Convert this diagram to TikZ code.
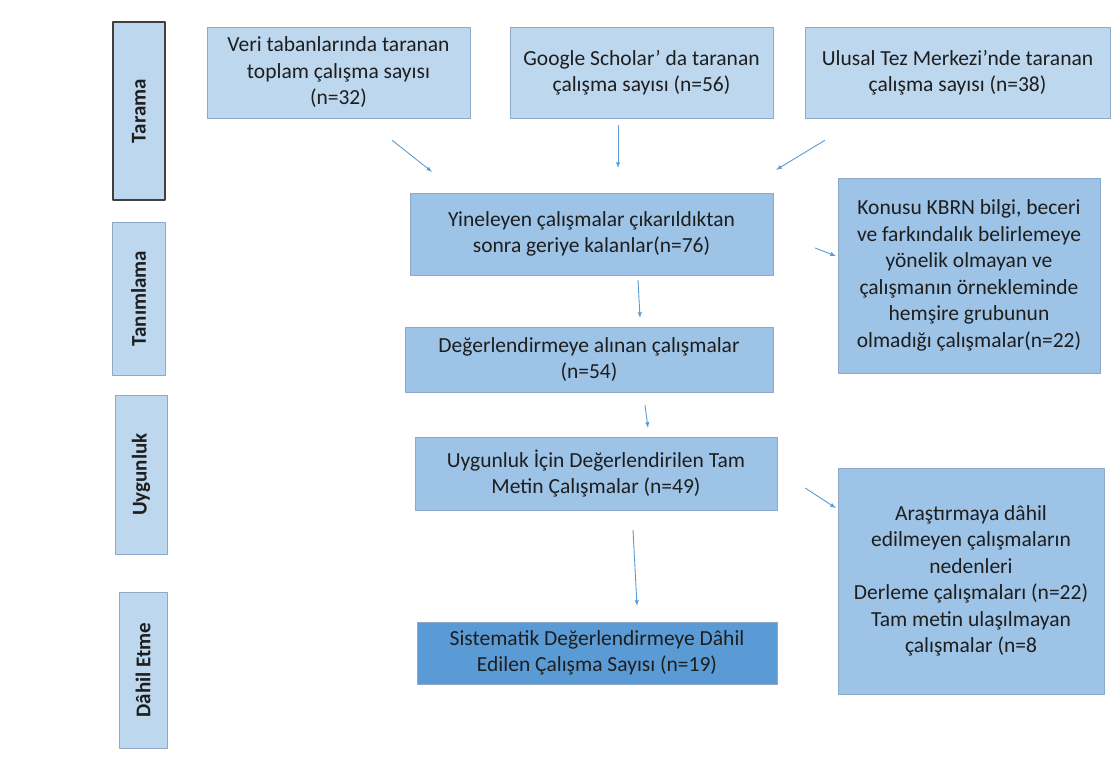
\documentclass[tikz,border=0pt]{standalone}
\usepackage{fontspec}
\setmainfont{Carlito}
\usetikzlibrary{arrows,calc}
\definecolor{lightbox}{HTML}{BDD7EE}
\definecolor{midbox}{HTML}{9DC3E6}
\definecolor{darkbox}{HTML}{5B9BD5}
\definecolor{boxline}{HTML}{8EA9C8}
\definecolor{arrowblue}{HTML}{5B9BD5}
\definecolor{txt}{HTML}{1E1E1E}
\begin{document}
\begin{tikzpicture}[x=1pt,y=-1pt,join=round]
		\tikzstyle{box}=[draw=boxline, fill=midbox, text=txt, align=center, inner sep=0pt, font=\fontsize{21.5}{26.5}\selectfont]
		\tikzstyle{side}=[draw=boxline, fill=lightbox, text=txt, rotate=90, inner sep=0pt, font=\fontsize{21}{24}\selectfont\bfseries]
		\tikzstyle{arr}=[draw=arrowblue, line width=0.9pt, ->, >=latex]
		
		\fill[white] (0,0) rectangle (1119,756);
		
		\node[side, draw=black!75, line width=1.2pt, minimum width=178pt, minimum height=52pt] (tar) at (139,111) {Tarama};
		\node[side, minimum width=153pt, minimum height=53pt] (tan) at (138.5,298.5) {Tanımlama};
		\node[side, minimum width=159pt, minimum height=52pt] (uyg) at (141,474.5) {Uygunluk};
		\node[side, minimum width=156pt, minimum height=48pt] (dah) at (143,670) {Dâhil Etme};
		
		\node[box, fill=lightbox, minimum width=263pt, minimum height=91pt] (b1) at (338.5,72.5) {Veri tabanlarında taranan\\toplam çalışma sayısı\\(n=32)};
		\node[box, fill=lightbox, minimum width=263pt, minimum height=91pt] (b2) at (641.5,72.5) {Google Scholar’ da taranan\\çalışma sayısı (n=56)};
		\node[box, fill=lightbox, minimum width=305pt, minimum height=91pt] (b3) at (957.5,72.5) {Ulusal Tez Merkezi’nde taranan\\çalışma sayısı (n=38)};
		
		\node[box, minimum width=363pt, minimum height=82pt] (yin) at (591.5,234) {Yineleyen çalışmalar çıkarıldıktan\\sonra geriye kalanlar(n=76)};
		\node[box, minimum width=262pt, minimum height=195pt] (kon) at (969,275.5) {Konusu KBRN bilgi, beceri\\ve farkındalık belirlemeye\\yönelik olmayan ve\\çalışmanın örnekleminde\\hemşire grubunun\\olmadığı çalışmalar(n=22)};
		\node[box, minimum width=368pt, minimum height=65pt] (deg) at (589,359.5) {Değerlendirmeye alınan çalışmalar\\(n=54)};
		\node[box, minimum width=362pt, minimum height=73pt] (uic) at (596,473.5) {Uygunluk İçin Değerlendirilen Tam\\Metin Çalışmalar (n=49)};
		\node[box, minimum width=266pt, minimum height=226pt] (ara) at (971,581) {Araştırmaya dâhil\\edilmeyen çalışmaların\\nedenleri\\Derleme çalışmaları (n=22)\\Tam metin ulaşılmayan\\çalışmalar (n=8};
		\node[box, fill=darkbox, minimum width=360pt, minimum height=62pt] (sis) at (597,653) {Sistematik Değerlendirmeye Dâhil\\Edilen Çalışma Sayısı (n=19)};
		
		\draw[arr] ($(b1.south)+(53.5,22)$) -- ($(yin.north)+(-159.5,-21)$);
		\draw[arr] ($(b2.south)+(-23.5,7)$) -- ($(yin.north)+(26.5,-25)$);
		\draw[arr] ($(b3.south)+(-132.5,22)$) -- ($(yin.north east)+(3,-23)$);
		\draw[arr] ($(yin.south)+(46.5,5)$) -- ($(deg.north)+(51,-9)$);
		\draw[arr] ($(deg.south)+(56,13)$) -- ($(uic.north)+(52,-9)$);
		\draw[arr] ($(yin.east)+(42,14)$) -- ($(kon.west)+(-2,-19.5)$);
		\draw[arr] ($(uic.east)+(28,14.5)$) -- ($(ara.west)+(-2,-73)$);
		\draw[arr] ($(uic.south)+(37,20)$) -- ($(sis.north)+(40,-16)$);
	\end{tikzpicture}
\end{document}
